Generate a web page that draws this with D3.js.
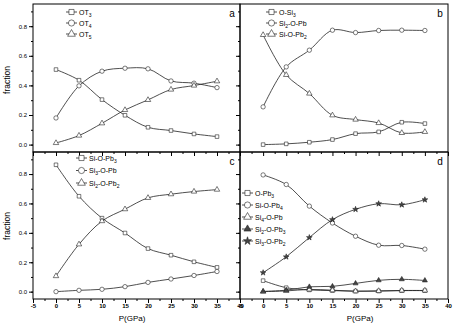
<!DOCTYPE html>
<html>
<head>
<meta charset="utf-8">
<script src="https://d3js.org/d3.v7.min.js"></script>
<style>
  body { margin: 0; background: #fff; }
  text { font-family: Arial, "Liberation Sans", sans-serif; fill: #000; }
</style>
</head>
<body>
<svg id="chart" width="453" height="324"></svg>
<script>
// pressure points (GPa)
const pressure = [0, 5, 10, 15, 20, 25, 30, 35];
const xTicks = [-5, 0, 5, 10, 15, 20, 25, 30, 35, 40];
const yTicks = [0.0, 0.2, 0.4, 0.6, 0.8];

// panel a
const aLabels = ["OT_3", "OT_4", "OT_5"];
const aOT3 = [0.507, 0.435, 0.304, 0.198, 0.117, 0.095, 0.072, 0.054];
const aOT4 = [0.180, 0.397, 0.496, 0.516, 0.512, 0.430, 0.415, 0.385];
const aOT5 = [0.011, 0.061, 0.144, 0.234, 0.302, 0.372, 0.399, 0.428];

// panel b
const bLabels = ["O-Si_3", "Si_2-O-Pb", "Si-O-Pb_2"];
const bOSi3 = [0.000, 0.005, 0.016, 0.034, 0.074, 0.086, 0.151, 0.142];
const bSi2OPb = [0.255, 0.525, 0.638, 0.773, 0.757, 0.771, 0.773, 0.771];
const bSiOPb2 = [0.741, 0.471, 0.345, 0.198, 0.169, 0.146, 0.079, 0.086];

// panel c
const cLabels = ["Si-O-Pb_3", "Si_3-O-Pb", "Si_2-O-Pb_2"];
const cSiOPb3 = [0.863, 0.649, 0.500, 0.399, 0.293, 0.248, 0.203, 0.165];
const cSi3OPb = [0.000, 0.009, 0.016, 0.034, 0.063, 0.086, 0.110, 0.137];
const cSi2OPb2 = [0.106, 0.322, 0.480, 0.561, 0.638, 0.663, 0.681, 0.694];

// panel d
const dLabels = ["O-Pb_3", "Si-O-Pb_4", "Si_4-O-Pb", "Si_2-O-Pb_3", "Si_3-O-Pb_2"];
const dOPb3 = [0.075, 0.027, 0.012, 0.007, 0.003, 0.004, 0.007, 0.007];
const dSiOPb4 = [0.794, 0.729, 0.582, 0.467, 0.377, 0.316, 0.314, 0.289];
const dSi4OPb = [0.000, 0.005, 0.015, 0.010, 0.003, 0.005, 0.008, 0.008];
const dSi2OPb3 = [0.002, 0.010, 0.033, 0.036, 0.056, 0.077, 0.084, 0.076];
const dSi3OPb2 = [0.129, 0.237, 0.368, 0.490, 0.560, 0.598, 0.591, 0.625];

const svg = d3.select("#chart");

const xL = d3.scaleLinear([-5, 40], [33, 240]);
const xR = d3.scaleLinear([-5, 40], [240, 448]);
const yT = d3.scaleLinear([-0.05, 0.95], [152, 4]);
const yB = d3.scaleLinear([-0.05, 0.95], [299, 152]);

const shapes = {
  square: { type: d3.symbolSquare, size: 13, fill: "#fff" },
  circle: { type: d3.symbolCircle, size: 15, fill: "#fff" },
  triangle: { type: d3.symbolTriangle, size: 13, fill: "#fff" },
  triFill: { type: d3.symbolTriangle, size: 11, fill: "#444" },
  star: { type: d3.symbolStar, size: 10, fill: "#444" }
};

const panels = [
  { letter: "a", x: xL, y: yT, labels: aLabels, series: [aOT3, aOT4, aOT5],
    marks: ["square", "circle", "triangle"], leg: [66, 12, 11], tickLabels: [false, true] },
  { letter: "b", x: xR, y: yT, labels: bLabels, series: [bOSi3, bSi2OPb, bSiOPb2],
    marks: ["square", "circle", "triangle"], leg: [266, 12, 11], tickLabels: [false, false] },
  { letter: "c", x: xL, y: yB, labels: cLabels, series: [cSiOPb3, cSi3OPb, cSi2OPb2],
    marks: ["square", "circle", "triangle"], leg: [76, 158, 12.5], tickLabels: [true, true] },
  { letter: "d", x: xR, y: yB, labels: dLabels, series: [dOPb3, dSiOPb4, dSi4OPb, dSi2OPb3, dSi3OPb2],
    marks: ["square", "circle", "triangle", "triFill", "star"], leg: [242, 193, 12], tickLabels: [true, false] }
];

function addLabel(sel, label) {
  // "_" marks a one-character subscript
  const parts = label.split(/_(.)/);
  parts.forEach((p, i) => {
    if (!p) return;
    const t = sel.append("tspan").text(p);
    if (i % 2 == 1) {
      t.attr("font-size", "5px").attr("dy", 2);
    } else if (i > 0) {
      t.attr("dy", -2);
    }
  });
}

panels.forEach(p => {
  const g = svg.append("g");
  const [x0, x1] = p.x.range();
  const [yb, yt] = p.y.range();

  // y axis: minor then major
  g.append("g").attr("transform", `translate(${x0},0)`)
    .call(d3.axisLeft(p.y).tickValues(d3.range(0, 0.95, 0.1)).tickSize(2).tickFormat(""))
    .call(a => a.select(".domain").remove());
  g.append("g").attr("transform", `translate(${x0},0)`)
    .call(d3.axisLeft(p.y).tickValues(yTicks).tickSize(4).tickPadding(2)
      .tickFormat(p.tickLabels[1] ? d3.format(".1f") : ""))
    .call(a => a.select(".domain").remove())
    .call(a => a.selectAll("text").attr("font-size", "6px").attr("font-family", "Arial, 'Liberation Sans', sans-serif"));

  // x axis
  g.append("g").attr("transform", `translate(0,${yb})`)
    .call(d3.axisBottom(p.x).tickValues(d3.range(-2.5, 40, 5)).tickSize(2).tickFormat(""))
    .call(a => a.select(".domain").remove());
  g.append("g").attr("transform", `translate(0,${yb})`)
    .call(d3.axisBottom(p.x).tickValues(xTicks).tickSize(4).tickPadding(1)
      .tickFormat(p.tickLabels[0] ? (d => String(d)) : ""))
    .call(a => a.select(".domain").remove())
    .call(a => a.selectAll("text").attr("font-size", "6px").attr("font-weight", "bold")
      .attr("font-family", "Arial, 'Liberation Sans', sans-serif"));

  // frame
  g.append("rect").attr("x", x0).attr("y", yt).attr("width", x1 - x0).attr("height", yb - yt)
    .attr("fill", "none").attr("stroke", "#000").attr("stroke-width", 1);

  const line = d3.line()
    .x((d, i) => p.x(pressure[i]))
    .y(d => p.y(d))
    .curve(d3.curveCatmullRom.alpha(0.5));

  p.series.forEach((s, k) => {
    const m = shapes[p.marks[k]];
    g.append("path").attr("d", line(s)).attr("fill", "none")
      .attr("stroke", "#222").attr("stroke-width", 0.8);
    g.selectAll(null).data(s).join("path")
      .attr("transform", (d, i) => `translate(${p.x(pressure[i])},${p.y(d)})`)
      .attr("d", d3.symbol(m.type, m.size))
      .attr("fill", m.fill).attr("stroke", "#222").attr("stroke-width", 0.6);

    // legend
    const [lx, ly, dy] = p.leg;
    const yy = ly + k * dy;
    g.append("line").attr("x1", lx).attr("x2", lx + 11).attr("y1", yy).attr("y2", yy)
      .attr("stroke", "#222").attr("stroke-width", 0.8);
    g.append("path").attr("transform", `translate(${lx + 5.5},${yy})`)
      .attr("d", d3.symbol(m.type, m.size * 2))
      .attr("fill", m.fill).attr("stroke", "#222").attr("stroke-width", 0.6);
    g.append("text").attr("x", lx + 13).attr("y", yy + 2.5).attr("font-size", "7px")
      .call(t => addLabel(t, p.labels[k]));
  });

  g.append("text").attr("x", x1 - 8).attr("y", yt + 13).attr("font-size", "10px")
    .attr("text-anchor", "middle").text(p.letter);
});

// axis titles
[[xL, 132], [xR, 360]].forEach(([s, cx]) => {
  svg.append("text").attr("x", cx).attr("y", 321).attr("text-anchor", "middle")
    .attr("font-size", "8px").text("P(GPa)");
});
[80, 226].forEach(cy => {
  svg.append("text").attr("transform", `translate(10,${cy}) rotate(-90)`)
    .attr("text-anchor", "middle").attr("font-size", "8.5px").text("fraction");
});
</script>
</body>
</html>
